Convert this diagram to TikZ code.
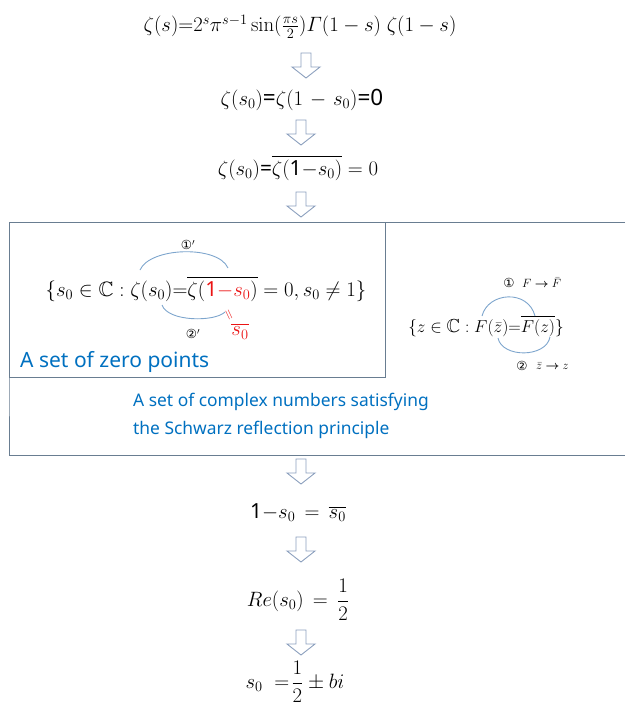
\documentclass[tikz,border=0pt]{standalone}
\usepackage{amsmath,amssymb}
\usepackage[no-math]{fontspec}
\newfontfamily\ksans{Noto Sans}
\newfontfamily\dejavu{DejaVu Sans}
\definecolor{boxc}{RGB}{105,125,145}
\definecolor{arrc}{RGB}{140,160,190}
\definecolor{arcc}{RGB}{125,165,205}
\definecolor{bluet}{RGB}{0,112,192}
\definecolor{redt}{RGB}{235,20,20}
\tikzset{
  eq/.style={inner sep=0pt, font=\fontsize{20.8}{24}\selectfont},
  small/.style={inner sep=0pt, font=\fontsize{12.5}{14}\selectfont},
  bluelabel/.style={inner sep=0pt, text=bluet, font=\ksans\fontsize{17.4}{28}\selectfont, align=left},
  boxline/.style={draw=boxc, line width=0.9pt},
  arcline/.style={draw=arcc, line width=0.9pt},
  pics/downarrow/.style={code={\draw[draw=arrc, fill=white, line width=0.9pt, line join=miter] (-5,0)--(5,0)--(5,14)--(14,14)--(0,25)--(-14,14)--(-5,14)--cycle;}}
}
\begin{document}
\begin{tikzpicture}[x=1pt,y=-1pt]
\useasboundingbox (0,0) rectangle (625,706);
% chain of formulas
\node[eq, font=\fontsize{21.4}{24}\selectfont] (l1) at (300,27) {$\zeta(s)\mathord{=}2^s\pi^{s-1}\sin(\tfrac{\pi s}{2})\varGamma(1-s)\;\zeta(1-s)$};
\node[eq, font=\fontsize{22.5}{24}\selectfont] (l2) at (302,100) {$\zeta(s_0)$\ksans=$\zeta(1\mskip2mu-\mskip2mu s_0)$\ksans=0};
\node[eq] (l3) at (298,168) {$\zeta(s_0)$\ksans=$\overline{\zeta(\text{\ksans 1}\mathord{-}s_0)}=0$};
\pic at (306,53) {downarrow};
\pic at (301,120) {downarrow};
\pic at (301,192) {downarrow};
% boxes
\node[boxline, draw, minimum width=376pt, minimum height=155pt, anchor=north west, inner sep=0pt] (zbox) at (9,222) {};
\coordinate (otl) at (625,222);
\coordinate (obl) at (625,455);
\draw[boxline] (otl) -- (zbox.north west) -- (zbox.south west) |- (obl);
% zero set
\node[eq] (zset) at (206,289) {$\{s_0\in\mathbb{C}:\zeta(s_0)\mathord{=}\overline{\zeta(\textcolor{redt}{\text{\ksans 1}\mathord{-}s_0})}=0,s_0\neq1\}$};
\node[eq, text=redt] (sbar) at (240,331) {$\overline{s_0}$};
\node[inner sep=0pt, text=redt, font=\fontsize{14}{14}\selectfont, rotate=-65] (req) at (228,315) {$=$};
\coordinate (a1s) at (140,270);
\coordinate (a1e) at (228,268);
\coordinate (a2s) at (162,305);
\coordinate (a2e) at (225,312);
\draw[arcline] (a1s) .. controls (150,247) and (218,245) .. (a1e);
\draw[arcline] (a2s) .. controls (168,322) and (215,322) .. (a2e);
\node[small] (c1p) at (188,245) {\dejavu ①$'$};
\node[small] (c2p) at (193,334) {\dejavu ②$'$};
\node[bluelabel, anchor=west, font=\ksans\fontsize{21}{24}\selectfont] (zlab) at (20,362) {A set of zero points};
% Schwarz set
\node[eq, font=\fontsize{18.8}{22}\selectfont] (fset) at (486,326) {$\{z\in\mathbb{C}:F(\bar z)\mathord{=}\overline{F(z)}\}$};
\coordinate (b1s) at (482,316);
\coordinate (b1e) at (535,316);
\coordinate (b2s) at (498,338);
\coordinate (b2e) at (550,337);
\draw[arcline] (b1s) .. controls (488,292) and (528,289) .. (b1e);
\draw[arcline] (b2s) .. controls (502,358) and (546,358) .. (b2e);
\node[small] (c1) at (509,283) {\dejavu ①};
\node[small, anchor=west] (c1t) at (522,283) {$F\boldsymbol{\rightarrow}\bar F$};
\node[small] (c2) at (522,366) {\dejavu ②};
\node[small, anchor=west] (c2t) at (536,366) {$\bar z\boldsymbol{\rightarrow}z$};
\node[bluelabel, anchor=west] (slab) at (133,416) {A set of complex numbers satisfying\\the Schwarz reflection principle};
% bottom chain
\pic at (301,459) {downarrow};
\node[eq] (l4) at (298,513) {\ksans 1$\mathord{-}s_0\,=\,\overline{s_0}$};
\pic at (301,537) {downarrow};
\node[eq] (l5) at (298,600) {$Re(s_0)\,=\,\dfrac{1}{2}$};
\pic at (301,630) {downarrow};
\node[eq] (l6) at (295,682) {$s_0\;=\!\dfrac{1}{2}\pm bi$};
\end{tikzpicture}
\end{document}
